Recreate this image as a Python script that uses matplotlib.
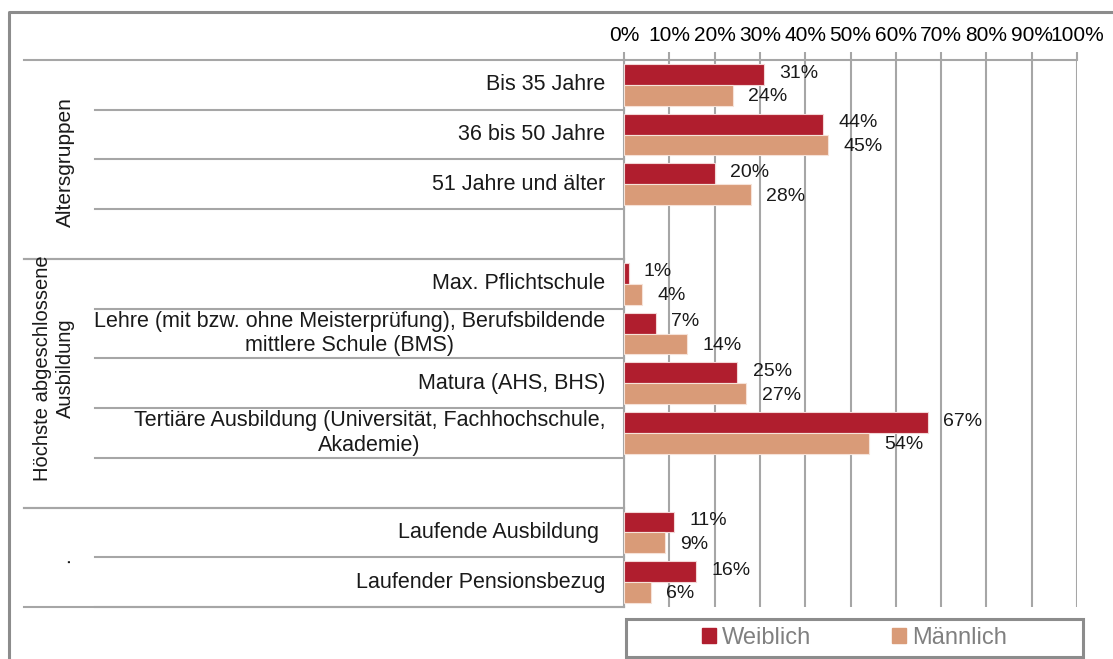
import matplotlib.pyplot as plt
from matplotlib.patches import Patch
from matplotlib.lines import Line2D

plt.rcParams['font.family'] = ['Liberation Sans', 'DejaVu Sans']

# data
groups = ["Altersgruppen", "Höchste abgeschlossene\nAusbildung", "."]
group_sizes = [3, 4, 2]
categories = ["Bis 35 Jahre", "36 bis 50 Jahre", "51 Jahre und älter",
              "Max. Pflichtschule",
              "Lehre (mit bzw. ohne Meisterprüfung), Berufsbildende\nmittlere Schule (BMS)",
              "Matura (AHS, BHS)",
              "Tertiäre Ausbildung (Universität, Fachhochschule,\nAkademie)",
              "Laufende Ausbildung ", "Laufender Pensionsbezug"]
weiblich = [31, 44, 20, 1, 7, 25, 67, 11, 16]
maennlich = [24, 45, 28, 4, 14, 27, 54, 9, 6]
series_names = ["Weiblich", "Männlich"]

red = '#B01E2E'
tan = '#D99B78'
grid_col = '#A6A6A6'
frame_col = '#8C8C8C'

W, H = 1113, 659
fig = plt.figure(figsize=(W / 100, H / 100), dpi=100)

# plot area in pixels
px0, px1, py0, py1 = 624, 1077, 60, 607
ax = fig.add_axes([px0 / W, 1 - py1 / H, (px1 - px0) / W, (py1 - py0) / H])

# row positions: blank row after each group except the last
rows = []
spans = []
r = 0
for g, n in enumerate(group_sizes):
    start = r
    rows += list(range(r, r + n))
    r += n
    if g < len(group_sizes) - 1:
        r += 1
    spans.append((start - 0.5, r - 0.5))
nrows = r

bh = 0.42
ax.barh([y - bh / 2 for y in rows], weiblich, height=bh, color=red,
        edgecolor='#F3D6D6', linewidth=0.8, zorder=3)
ax.barh([y + bh / 2 for y in rows], maennlich, height=bh, color=tan,
        edgecolor='#F6E2D8', linewidth=0.8, zorder=3)

for y, a, b in zip(rows, weiblich, maennlich):
    ax.annotate(f"{a}%", (a, y - bh / 2), xytext=(11, 1), textcoords='offset points',
                va='center', ha='left', fontsize=14, color='#1a1a1a')
    ax.annotate(f"{b}%", (b, y + bh / 2), xytext=(11, -1), textcoords='offset points',
                va='center', ha='left', fontsize=14, color='#1a1a1a')

ax.set_xlim(0, 100)
ax.set_ylim(nrows - 0.5, -0.5)
ax.xaxis.tick_top()
ax.set_xticks(range(0, 101, 10))
ax.set_xticklabels([f"{v}%" for v in range(0, 101, 10)], fontsize=15)
ax.tick_params(axis='x', length=6, width=1.5, color=grid_col, pad=5)
ax.set_yticks([])
ax.grid(axis='x', color=grid_col, linewidth=1.5, zorder=0)
for s in ['right', 'bottom']:
    ax.spines[s].set_visible(False)
for s in ['left', 'top']:
    ax.spines[s].set_color(grid_col)
    ax.spines[s].set_linewidth(1.5)

# category labels and separator lines
ytr = ax.get_yaxis_transform()
xl_row = (95 - px0) / (px1 - px0)
xl_grp = (24 - px0) / (px1 - px0)
for y, c in zip(rows, categories):
    ax.text((605 - px0) / (px1 - px0), y, c, transform=ytr, ha='right', va='center',
            multialignment='center', fontsize=15.5, color='#1a1a1a')
    ax.add_line(Line2D([xl_row, 0], [y + 0.5, y + 0.5], transform=ytr,
                       color=grid_col, lw=1.5, clip_on=False))
for (y0, y1), g in zip(spans, groups):
    for yy in (y0, y1):
        ax.add_line(Line2D([xl_grp, 0], [yy, yy], transform=ytr,
                           color=grid_col, lw=1.5, clip_on=False))

ax.text((65 - px0) / (px1 - px0), 1.55, groups[0], transform=ytr, rotation=90,
        ha='center', va='center', fontsize=15, color='#1a1a1a')
ax.text((54 - px0) / (px1 - px0), 5.7, groups[1], transform=ytr, rotation=90,
        ha='center', va='center', fontsize=14.5, color='#1a1a1a',
        multialignment='center')
ax.text((64 - px0) / (px1 - px0), 9.55, groups[2], transform=ytr, rotation=90,
        ha='center', va='center', fontsize=15, color='#1a1a1a')

# outer frame (left and top only, chart is cropped)
fig.add_artist(Line2D([9 / W, 9 / W, 1], [0, 1 - 12 / H, 1 - 12 / H],
                      color=frame_col, lw=2.2))

# legend box
lx0, lx1, ly0, ly1 = 626, 1083, 619, 657
fig.add_artist(plt.Rectangle((lx0 / W, 1 - ly1 / H), (lx1 - lx0) / W, (ly1 - ly0) / H,
                             fill=False, edgecolor=frame_col, lw=2.2))
handles = [Patch(color=red), Patch(color=tan)]
fig.legend(handles, series_names, ncol=2, loc='center',
           bbox_to_anchor=((lx0 + lx1) / 2 / W, 1 - (ly0 + ly1) / 2 / H),
           frameon=False, fontsize=17, labelcolor='#808080',
           handlelength=0.6, handleheight=0.6, handletextpad=0.25,
           columnspacing=3.4, borderpad=0, borderaxespad=0)

fig.savefig('out.png', dpi=100)
